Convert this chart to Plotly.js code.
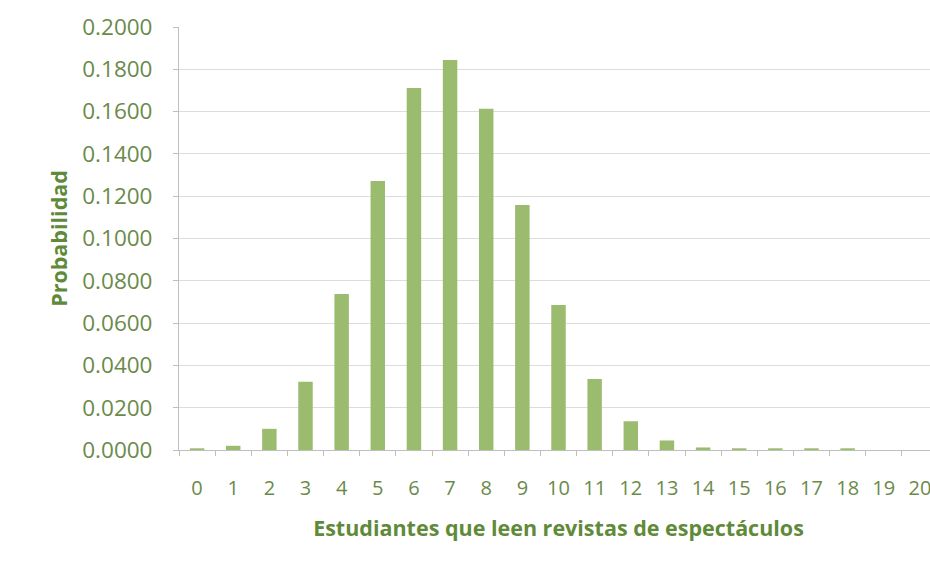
<!DOCTYPE html>
<html><head><meta charset="utf-8">
<script src="https://cdn.plot.ly/plotly-3.0.1.min.js"></script>
<style>html,body{margin:0;padding:0;overflow:hidden;background:#fff;width:930px;height:566px}#c{width:950px;height:566px}</style>
</head><body><div id="c"></div>
<script>
const categories = ["0","1","2","3","4","5","6","7","8","9","10","11","12","13","14","15","16","17","18","19","20"];
const probabilidad = [0.0008,0.0020,0.0100,0.0323,0.0738,0.1272,0.1712,0.1844,0.1614,0.1158,0.0686,0.0336,0.0136,0.0045,0.0012,0.0008,0.0008,0.0008,0.0008,0,0];
const yTicks = [0,0.02,0.04,0.06,0.08,0.10,0.12,0.14,0.16,0.18,0.20];
const yTickText = yTicks.map(v => v.toFixed(4));

const font = "Open Sans, Noto Sans, sans-serif";
Plotly.newPlot('c', [{
  type: 'bar', x: categories, y: probabilidad,
  marker: {color: '#9bbb6f'}, hoverinfo: 'none'
}], {
  width: 950, height: 566,
  margin: {l: 179, r: 12, t: 27, b: 116},
  paper_bgcolor: '#fff', plot_bgcolor: '#fff',
  bargap: 0.6, showlegend: false,
  font: {family: font, color: '#6b8a4a'},
  xaxis: {
    type: 'category', range: [-0.5, 20.5], tickson: 'boundaries',
    ticks: 'outside', ticklen: 5, tickcolor: '#bfbfbf',
    showline: true, linecolor: '#bfbfbf', linewidth: 1,
    showgrid: false, zeroline: false,
    tickfont: {size: 20, color: '#6b8a4a'}, ticklabelstandoff: 20,
    title: {text: 'Estudiantes que leen revistas de espectáculos', font: {size: 21.5, color: '#5f8a3a', weight: 'bold'}, standoff: 20}
  },
  yaxis: {
    range: [0, 0.2], tickvals: yTicks, ticktext: yTickText,
    ticks: 'outside', ticklen: 5, tickcolor: '#bfbfbf',
    showline: true, linecolor: '#bfbfbf', linewidth: 1,
    showgrid: true, gridcolor: '#dcdcdc', zeroline: false,
    tickfont: {size: 22.5, color: '#6b8a4a'}, ticklabelstandoff: 16,
    title: {text: 'Probabilidad', font: {size: 21.5, color: '#5f8a3a', weight: 'bold'}, standoff: 8}
  }
}, {staticPlot: true});
</script></body></html>
